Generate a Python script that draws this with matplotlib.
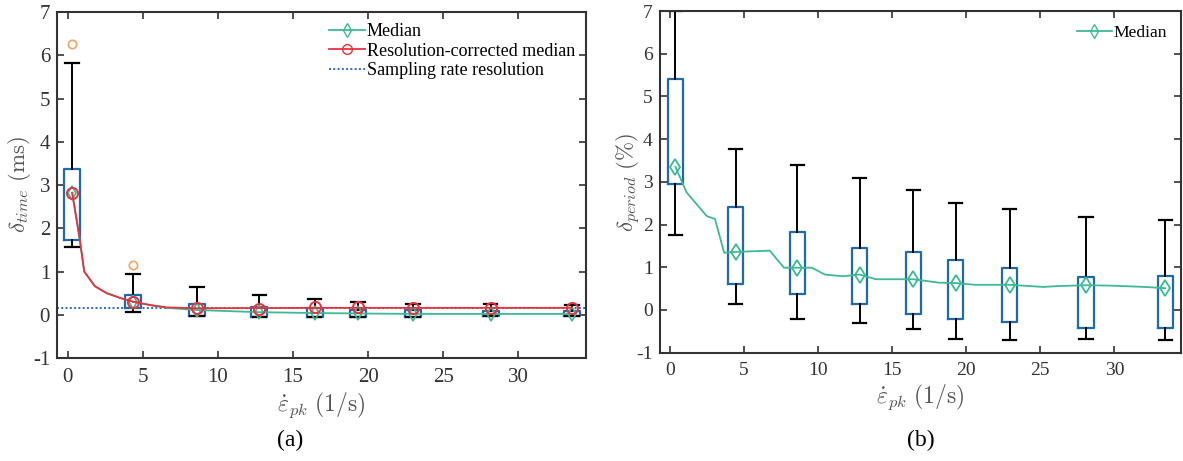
import matplotlib
matplotlib.use("Agg")
import matplotlib.pyplot as plt
from matplotlib.lines import Line2D

# box positions (peak strain rate, 1/s)
pos_a = [0.31, 4.37, 8.6, 12.76, 16.44, 19.33, 23.0, 28.15, 33.55]
pos_b = [0.36, 4.42, 8.59, 12.8, 16.43, 19.28, 22.93, 28.09, 33.44]

# (a) delta_time box statistics (ms)
a_whislo = [1.57, 0.07, -0.03, -0.05, -0.06, -0.06, -0.05, -0.04, -0.04]
a_q1 = [1.74, 0.15, -0.03, -0.05, -0.06, -0.06, -0.05, -0.04, -0.04]
a_q3 = [3.36, 0.46, 0.25, 0.17, 0.15, 0.11, 0.10, 0.08, 0.08]
a_whishi = [5.81, 0.94, 0.65, 0.46, 0.37, 0.30, 0.26, 0.24, 0.22]
a_fliers = [[6.25], [1.14], [], [], [], [], [], [], []]
a_med = [2.82, 0.30, 0.12, 0.06, 0.04, 0.03, 0.02, 0.02, 0.02]
a_corr = [2.82, 0.30, 0.15, 0.13, 0.18, 0.17, 0.16, 0.15, 0.16]

# median / corrected median curves (a)
a_line_x = [0.31, 0.82, 1.11, 1.82, 2.6, 3.49, 4.37, 5.49, 6.6, 8.6, 12.76,
            16.44, 19.33, 23.0, 28.15, 33.55]
a_corr_y = [2.82, 1.73, 1.0, 0.66, 0.50, 0.39, 0.30, 0.225, 0.17, 0.15, 0.155,
            0.16, 0.16, 0.16, 0.16, 0.16]
a_med_y = [2.82, 1.73, 1.0, 0.66, 0.50, 0.39, 0.30, 0.225, 0.16, 0.11, 0.06,
           0.04, 0.03, 0.02, 0.02, 0.02]
resolution = 0.156

# (b) delta_period box statistics (%)
b_whislo = [1.75, 0.13, -0.20, -0.31, -0.45, -0.67, -0.71, -0.67, -0.70]
b_q1 = [2.96, 0.61, 0.38, 0.13, -0.10, -0.21, -0.27, -0.43, -0.42]
b_q3 = [5.42, 2.42, 1.83, 1.46, 1.36, 1.18, 0.99, 0.77, 0.80]
b_whishi = [7.0, 3.76, 3.40, 3.09, 2.81, 2.51, 2.36, 2.18, 2.11]
b_med = [3.35, 1.36, 0.99, 0.83, 0.72, 0.63, 0.59, 0.58, 0.51]

b_line_x = [0.36, 1.12, 2.47, 3.03, 3.65, 4.42, 6.73, 7.69, 8.59, 9.57, 10.45,
            11.66, 12.8, 13.9, 16.43, 18.16, 19.28, 20.62, 22.93, 25.2, 26.2,
            28.09, 29.8, 32.06, 33.44]
b_line_y = [3.35, 2.75, 2.2, 2.13, 1.34, 1.36, 1.39, 0.99, 0.99, 0.99, 0.83,
            0.79, 0.83, 0.72, 0.72, 0.64, 0.63, 0.59, 0.59, 0.54, 0.56,
            0.58, 0.57, 0.54, 0.51]

BLUE = "#1f6aa8"
GREEN = "#3db995"
RED = "#e8333f"
ORANGE = "#f4a460"
DOT = "#2f6db5"
LABEL = "#555555"

plt.rcParams["font.family"] = ["Liberation Serif", "DejaVu Serif"]
plt.rcParams["mathtext.fontset"] = "cm"


def stats(pos, lo, q1, q3, hi, med, fl):
    out = []
    for i in range(len(pos)):
        out.append(dict(whislo=lo[i], q1=q1[i], med=med[i], q3=q3[i],
                        whishi=hi[i], fliers=fl[i]))
    return out


def style(ax, fs):
    ax.set_xlim(-0.7, 34.5)
    ax.set_ylim(-1, 7)
    ax.set_xticks(range(0, 35, 5))
    ax.set_xticklabels([str(v) for v in range(0, 35, 5)])
    ax.set_yticks(range(-1, 8))
    ax.set_yticklabels([str(v) for v in range(-1, 8)])
    ax.tick_params(direction="in", top=True, right=True, length=5,
                   width=1.2, labelsize=fs, colors="#333333", pad=7)
    ax.tick_params(axis="y", pad=5)
    for s in ax.spines.values():
        s.set_linewidth(1.5)
        s.set_color("#333333")


fig = plt.figure(figsize=(11.83, 4.61), dpi=100)
ax1 = fig.add_axes([0.0482, 0.2234, 0.4472, 0.7505])
ax2 = fig.add_axes([0.5577, 0.2349, 0.4406, 0.7412])

box_kw = dict(widths=1.05, capwidths=0.9, showfliers=True, patch_artist=False,
              boxprops=dict(color=BLUE, linewidth=1.6),
              whiskerprops=dict(color="black", linewidth=1.4),
              capprops=dict(color="black", linewidth=1.6),
              medianprops=dict(linewidth=0),
              flierprops=dict(marker="o", markerfacecolor="none",
                              markeredgecolor=ORANGE, markersize=6,
                              markeredgewidth=1.2))

# panel (a)
ax1.bxp(stats(pos_a, a_whislo, a_q1, a_q3, a_whishi, a_med, a_fliers),
        positions=pos_a, manage_ticks=False, **box_kw)
ax1.axhline(resolution, color=DOT, linestyle=(0, (1, 1.2)), linewidth=1.4)
ax1.plot(a_line_x, a_med_y, color=GREEN, linewidth=1.3)
ax1.plot(pos_a, a_med, linestyle="none", marker="d", markersize=7,
         markerfacecolor="none", markeredgecolor=GREEN, markeredgewidth=1.2)
ax1.plot(a_line_x, a_corr_y, color=RED, linewidth=1.3)
ax1.plot(pos_a, a_corr, linestyle="none", marker="o", markersize=8,
         markerfacecolor="none", markeredgecolor=RED, markeredgewidth=1.4)
style(ax1, 15)
ax1.set_ylabel(r"$\delta_{time}\ (\mathrm{ms})$", fontsize=16.5, color=LABEL)
ax1.yaxis.set_label_coords(-0.046, 0.5)
ax1.set_xlabel(r"$\dot{\varepsilon}_{pk}\ (1/\mathrm{s})$", fontsize=17,
               labelpad=3, color=LABEL)
h1 = [Line2D([], [], color=GREEN, marker="d", markersize=7,
             markerfacecolor="none", linewidth=1.3),
      Line2D([], [], color=RED, marker="o", markersize=7,
             markerfacecolor="none", linewidth=1.3),
      Line2D([], [], color=DOT, linestyle=(0, (1, 1.2)), linewidth=1.4)]
ax1.legend(h1, ["Median", "Resolution-corrected median",
                "Sampling rate resolution"],
           loc="upper right", frameon=False, fontsize=13, handlelength=2.0,
           handletextpad=0.1, labelspacing=0.15, borderaxespad=0.2,
           bbox_to_anchor=(1.0, 1.0))

# panel (b)
ax2.bxp(stats(pos_b, b_whislo, b_q1, b_q3, b_whishi, b_med,
              [[] for _ in pos_b]),
        positions=pos_b, manage_ticks=False, **box_kw)
ax2.plot(b_line_x, b_line_y, color=GREEN, linewidth=1.3)
ax2.plot(pos_b, b_med, linestyle="none", marker="d", markersize=8,
         markerfacecolor="none", markeredgecolor=GREEN, markeredgewidth=1.3)
style(ax2, 14)
ax2.set_ylabel(r"$\delta_{period}\ (\%)$", fontsize=16.5, color=LABEL)
ax2.yaxis.set_label_coords(-0.033, 0.5)
ax2.set_xlabel(r"$\dot{\varepsilon}_{pk}\ (1/\mathrm{s})$", fontsize=17,
               labelpad=2, color=LABEL)
h2 = [Line2D([], [], color=GREEN, marker="d", markersize=7,
             markerfacecolor="none", linewidth=1.3)]
ax2.legend(h2, ["Median"], loc="upper right", frameon=False, fontsize=12.6,
           handlelength=2.0, handletextpad=0.1, borderaxespad=0.4)

fig.text(0.245, 0.045, "(a)", fontsize=17, ha="center", va="center")
fig.text(0.778, 0.045, "(b)", fontsize=17, ha="center", va="center")

fig.savefig("out.png", dpi=100)
